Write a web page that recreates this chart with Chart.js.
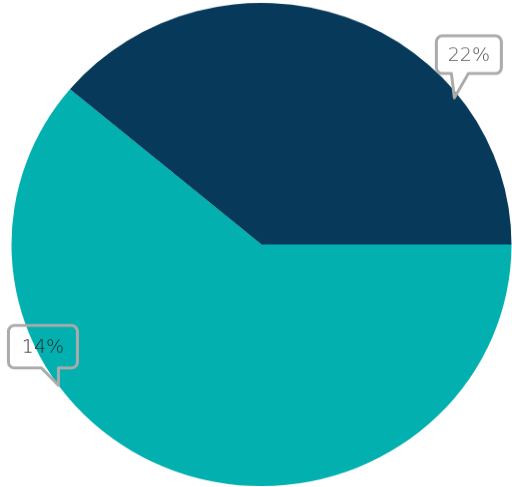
<!DOCTYPE html>
<html>
<head>
<meta charset="utf-8">
<script src="https://cdn.jsdelivr.net/npm/chart.js@4"></script>
<style>
  html, body { margin: 0; padding: 0; background: #fff; overflow: hidden; }
  #wrap { width: 512px; height: 487px; overflow: hidden; }
  /* the original pie is a little squashed vertically */
  #pieChart { transform: scaleY(0.9663); transform-origin: 0 0; }
</style>
</head>
<body>
<div id="wrap"><canvas id="pieChart" width="512" height="504"></canvas></div>
<script>
// chart data
var categories = ["Segment A", "Segment B"];
var values = [22, 14];
var sliceColors = ["#02B0AF", "#07395A"];
var calloutText = ["14%", "22%"];

// draws the speech-bubble labels, anchored on each slice's edge
var calloutPlugin = {
  id: "callouts",
  afterDatasetsDraw: function (chart, args, opts) {
    var ctx = chart.ctx;
    var arcs = chart.getDatasetMeta(0).data;
    opts.items.forEach(function (c, i) {
      var p = arcs[i].getProps(["x", "y", "startAngle", "endAngle", "outerRadius"], true);
      var a = p.startAngle + c.along * (p.endAngle - p.startAngle);
      var tx = p.x + Math.cos(a) * p.outerRadius * c.reach;
      var ty = p.y + Math.sin(a) * p.outerRadius * c.reach;
      var left = tx + c.boxX, bottom = ty + c.boxY;
      var right = left + c.w, top = bottom - c.h, r = 6;
      ctx.save();
      ctx.beginPath();
      ctx.moveTo(left + r, top);
      ctx.arcTo(right, top, right, bottom, r);
      ctx.arcTo(right, bottom, left, bottom, r);
      ctx.lineTo(tx + c.baseR, bottom);
      ctx.lineTo(tx, ty);
      ctx.lineTo(tx + c.baseL, bottom);
      ctx.arcTo(left, bottom, left, top, r);
      ctx.arcTo(left, top, right, top, r);
      ctx.closePath();
      ctx.lineWidth = 3;
      ctx.lineJoin = "round";
      ctx.strokeStyle = "#ABABAB";
      ctx.stroke();
      ctx.fillStyle = c.color;
      ctx.font = "200 19px 'DejaVu Sans'";
      ctx.textAlign = "center";
      ctx.textBaseline = "middle";
      ctx.fillText(calloutText[i], (left + right) / 2, (top + bottom) / 2 + 1);
      ctx.restore();
    });
  }
};

var ctxPie = document.getElementById("pieChart").getContext("2d");

new Chart(ctxPie, {
  type: "pie",
  data: {
    labels: categories,
    datasets: [
      {
        data: values,
        backgroundColor: sliceColors,
        borderWidth: 0,
        hoverOffset: 0,
      },
    ],
  },
  options: {
    responsive: false,
    animation: false,
    devicePixelRatio: 1,
    rotation: 90, // first slice starts at 3 o'clock
    layout: { padding: { left: 11, right: 0, top: 3, bottom: 1 } },
    plugins: {
      legend: { display: false },
      tooltip: { enabled: false },
      callouts: {
        items: [
          { along: 0.656, reach: 1.0, boxX: -50, boxY: -18, w: 69, h: 44, baseL: -17, baseR: 0, color: "#2A2A2A" },
          { along: 0.727, reach: 0.982, boxX: -18, boxY: -25, w: 65, h: 39, baseL: -3, baseR: 14, color: "#555555" },
        ],
      },
    },
  },
  plugins: [calloutPlugin],
});
</script>
</body>
</html>
